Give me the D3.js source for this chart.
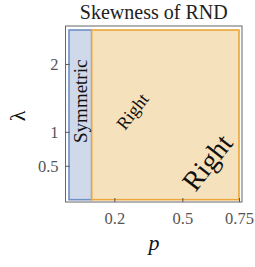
<!DOCTYPE html>
<html>
<head>
<meta charset="utf-8">
<script src="https://cdn.jsdelivr.net/npm/d3@7"></script>
<style>
  html, body { margin: 0; padding: 0; background: #fff; }
  svg { display: block; }
</style>
</head>
<body>
<div id="chart"></div>
<script>
// regions of the (p, lambda) plane
var regionNames = ['Symmetric', 'Right'];
var pBreaks = [0, 0.1, 0.75];
var lambdaRange = [0, 2.5];
var xTicks = [0.2, 0.5, 0.75];
var yTicks = [0.5, 1, 2];
var fills = ['#cfd9e9', '#f6e1bd'];
var strokes = ['#6f8fc6', '#eca634'];

var serif = "'Liberation Serif', 'Times New Roman', 'DejaVu Serif', serif";
var width = 255, height = 267;
var frame = { left: 65.5, right: 242, top: 26, bottom: 202 };

var svg = d3.select('#chart').append('svg')
  .attr('width', width)
  .attr('height', height)
  .style('font-family', serif);

var x = d3.scaleLinear().domain([0, 0.75]).range([69, 239]);
var y = d3.scaleLinear().domain(lambdaRange).range([199.7, 30]);

svg.append('text')
  .attr('x', (frame.left + frame.right) / 2)
  .attr('y', 19)
  .attr('text-anchor', 'middle')
  .style('font-family', serif)
  .attr('font-size', 20)
  .attr('fill', '#222')
  .text('Skewness of RND');

var regions = regionNames.map(function(name, i) {
  return { name: name, p0: pBreaks[i], p1: pBreaks[i + 1] };
});

svg.selectAll('rect.region')
  .data(regions)
  .enter().append('rect')
  .attr('class', 'region')
  .attr('x', function(d) { return x(d.p0); })
  .attr('y', y(lambdaRange[1]))
  .attr('width', function(d) { return x(d.p1) - x(d.p0); })
  .attr('height', y(lambdaRange[0]) - y(lambdaRange[1]))
  .attr('fill', function(d, i) { return fills[i]; })
  .attr('stroke', function(d, i) { return strokes[i]; })
  .attr('stroke-width', 1.6);

// frame
svg.append('rect')
  .attr('x', frame.left)
  .attr('y', frame.top)
  .attr('width', frame.right - frame.left)
  .attr('height', frame.bottom - frame.top)
  .attr('fill', 'none')
  .attr('stroke', '#666')
  .attr('stroke-width', 1);

// axes with inward ticks
var xAxis = svg.append('g')
  .attr('transform', 'translate(0,' + frame.bottom + ')')
  .call(d3.axisBottom(x).tickValues(xTicks).tickSizeInner(-4).tickSizeOuter(0).tickPadding(10)
    .tickFormat(function(d) { return String(d); }));
xAxis.select('.domain').remove();

var yAxis = svg.append('g')
  .attr('transform', 'translate(' + frame.left + ',0)')
  .call(d3.axisLeft(y).tickValues(yTicks).tickSizeInner(-4).tickSizeOuter(0).tickPadding(7)
    .tickFormat(function(d) { return String(d); }));
yAxis.select('.domain').remove();

svg.selectAll('.tick line').attr('stroke', '#555');
svg.selectAll('g.tick, g').attr('font-family', null);
svg.selectAll('.tick text')
  .style('font-family', serif)
  .attr('font-size', 16.5)
  .attr('fill', '#555');

// axis labels
svg.append('text')
  .attr('x', 154)
  .attr('y', 250)
  .attr('text-anchor', 'middle')
  .style('font-family', serif)
  .attr('font-size', 22)
  .attr('font-style', 'italic')
  .attr('fill', '#111')
  .text('p');

svg.append('text')
  .attr('transform', 'translate(17,116) rotate(-90)')
  .attr('text-anchor', 'middle')
  .attr('dominant-baseline', 'central')
  .style('font-family', serif)
  .attr('font-size', 22)
  .attr('fill', '#111')
  .text('λ');

// region labels
function regionLabel(name, p, lam, angle, size) {
  svg.append('text')
    .attr('transform', 'translate(' + x(p) + ',' + y(lam) + ') rotate(' + angle + ')')
    .attr('text-anchor', 'middle')
    .attr('dominant-baseline', 'central')
    .style('font-family', serif)
    .attr('font-size', size)
    .attr('fill', '#111')
    .text(name);
}

regionLabel(regionNames[0], 0.05, 1.45, -90, 19);
regionLabel(regionNames[1], 0.28, 1.3, -52, 18);
regionLabel(regionNames[1], 0.61, 0.55, -52, 28);
</script>
</body>
</html>
